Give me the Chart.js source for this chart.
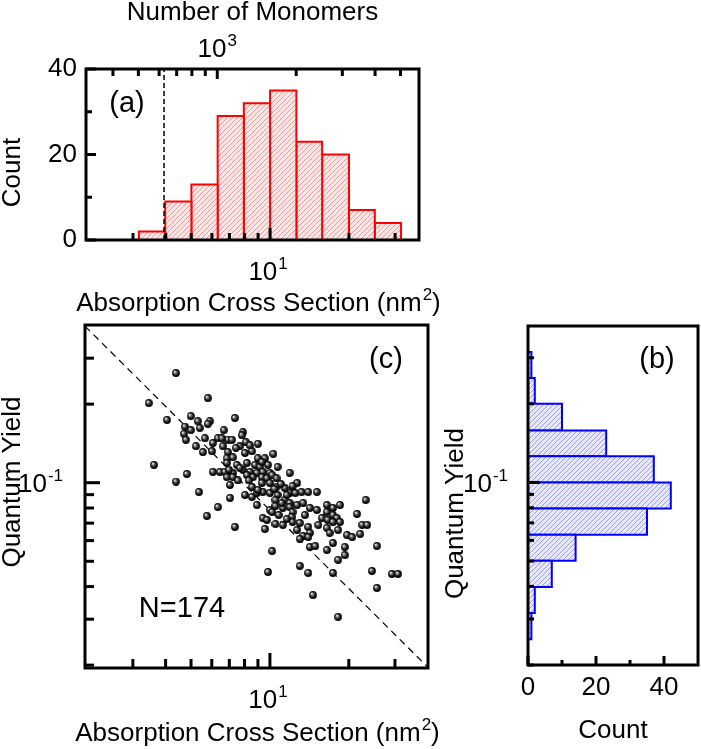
<!DOCTYPE html>
<html>
<head>
<meta charset="utf-8">
<style>
  body { margin: 0; background: #fff; }
  #figure { position: relative; width: 701px; height: 749px; overflow: hidden; }
  #figure canvas { position: absolute; }
  #histA { left: 0; top: 0; }
  #scatterC { left: 0; top: 318px; }
  #histB { left: 440px; top: 318px; }
</style>
</head>
<body>
<div id="figure">
  <canvas id="histA" width="450" height="318"></canvas>
  <canvas id="scatterC" width="450" height="431"></canvas>
  <canvas id="histB" width="261" height="431"></canvas>
</div>
<script src="https://cdn.jsdelivr.net/npm/chart.js"></script>
<script>
// ---- panel (a): absorption cross section histogram (nm^2)
const sigmaEdges = [3.16, 3.98, 5.01, 6.31, 7.94, 10.0, 12.6, 15.8, 20.0, 25.1, 31.6];
const sigmaCounts = [2, 9, 13, 29, 32, 35, 23, 20, 7, 4];
const cutoffSigma = 3.94;          // dashed line
const monomersPerNm2 = 159;        // top axis conversion

// ---- panel (b): quantum yield histogram
const qyEdges = [0.0251, 0.0316, 0.0398, 0.0501, 0.0631, 0.0794, 0.100, 0.126, 0.158, 0.200, 0.251, 0.316];
const qyCounts = [1, 2, 7, 14, 35, 42, 37, 23, 10, 2, 1];

// ---- panel (c): single particles (N=174)
const sigmaValues = [
  4.38, 3.45, 5.80, 4.05, 4.99, 5.31, 5.90, 4.74, 4.99, 5.40,
  5.80, 4.70, 6.67, 6.33, 6.06, 6.62, 5.55, 6.91, 6.01, 6.91,
  7.35, 7.89, 7.82, 7.16, 8.10, 9.00, 7.68, 8.54, 10.3, 8.03,
  6.85, 7.22, 9.00, 9.57, 6.85, 7.48, 8.17, 8.77, 9.16, 9.83,
  10.7, 6.06, 6.44, 6.73, 7.22, 7.89, 8.39, 8.92, 9.40, 10.0,
  11.9, 3.61, 4.82, 4.38, 6.85, 7.22, 7.55, 7.04, 8.17, 8.61,
  9.32, 9.74, 10.2, 10.6, 8.54, 9.32, 10.0, 10.6, 11.4, 12.1,
  12.7, 13.2, 14.0, 15.1, 11.9, 12.5, 5.36, 7.04, 8.54, 8.92,
  9.40, 10.0, 10.7, 11.4, 11.9, 6.33, 5.75, 8.92, 10.0, 10.2,
  11.2, 11.9, 12.2, 12.7, 13.4, 14.2, 15.1, 16.5, 17.4, 18.5,
  16.5, 17.4, 18.0, 9.40, 9.74, 11.2, 12.1, 12.2, 13.0, 14.0,
  15.8, 16.6, 17.4, 18.5, 21.5, 23.2, 7.35, 9.57, 12.7, 13.4,
  14.2, 16.5, 16.9, 18.2, 19.7, 20.6, 22.5, 23.5, 22.1, 13.0,
  14.0, 14.2, 14.9, 16.5, 17.4, 19.3, 18.2, 19.3, 10.2, 25.6,
  9.83, 13.0, 14.0, 17.4, 24.5, 29.2, 30.8, 25.6, 14.6, 18.2,
  4.78, 5.65, 5.22, 7.42, 6.56, 8.39, 7.68, 6.98, 8.31, 9.32,
  9.00, 8.03, 10.4, 11.0, 11.6, 10.5, 11.1, 12.2, 10.5, 10.8,
  11.6, 10.5, 13.6, 15.3
];
const qyValues = [
  0.263, 0.202, 0.211, 0.174, 0.180, 0.172, 0.172, 0.164, 0.159, 0.162,
  0.168, 0.154, 0.159, 0.148, 0.142, 0.138, 0.131, 0.146, 0.132, 0.131,
  0.177, 0.156, 0.152, 0.146, 0.143, 0.141, 0.138, 0.132, 0.129, 0.130,
  0.124, 0.125, 0.124, 0.124, 0.119, 0.117, 0.119, 0.117, 0.115, 0.117,
  0.115, 0.110, 0.110, 0.110, 0.109, 0.112, 0.110, 0.109, 0.110, 0.109,
  0.109, 0.117, 0.108, 0.101, 0.105, 0.105, 0.102, 0.098, 0.107, 0.105,
  0.105, 0.104, 0.107, 0.104, 0.0963, 0.0997, 0.0997, 0.0963, 0.0954, 0.0938,
  0.0997, 0.0921, 0.0921, 0.0921, 0.0913, 0.0913, 0.0921, 0.0874, 0.0882, 0.0913,
  0.0921, 0.0913, 0.0897, 0.0858, 0.0836, 0.0807, 0.0746, 0.0821, 0.0786, 0.0772,
  0.0800, 0.0807, 0.0772, 0.0821, 0.0836, 0.0800, 0.0786, 0.0821, 0.0800, 0.0821,
  0.0772, 0.0752, 0.0732, 0.0732, 0.0720, 0.0689, 0.0739, 0.0707, 0.0701, 0.0677,
  0.0732, 0.0720, 0.0707, 0.0707, 0.0759, 0.0858, 0.0677, 0.0665, 0.0659, 0.0625,
  0.0642, 0.0671, 0.0642, 0.0659, 0.0630, 0.0619, 0.0689, 0.0689, 0.0636, 0.0609,
  0.0619, 0.0567, 0.0572, 0.0552, 0.0587, 0.0567, 0.0506, 0.0528, 0.0547, 0.0572,
  0.0455, 0.0480, 0.0451, 0.0451, 0.0459, 0.0447, 0.0447, 0.0395, 0.0371, 0.0306,
  0.146, 0.148, 0.138, 0.136, 0.148, 0.139, 0.114, 0.112, 0.102, 0.120,
  0.0938, 0.0897, 0.0946, 0.0989, 0.0897, 0.0858, 0.0836, 0.0971, 0.0814, 0.0752,
  0.0726, 0.0695, 0.0752, 0.0689
];
const guideSigma = [1.97, 40.1];   // dashed slope -1 line end points
const guideQY = [0.398, 0.0196];

// ---- axis ticks ("10^n" labels get a real superscript)
const sigmaTicks = [3, 4, 5, 6, 7, 8, 9, 10, 20, 30];
const sigmaTickLabels = ['', '', '', '', '', '', '', '10^1', '', ''];
const monomerTicks = [400, 500, 600, 700, 800, 900, 1000, 2000, 3000, 4000, 5000];
const monomerTickLabels = ['', '', '', '', '', '', '10^3', '', '', '', ''];
const countTicksA = [0, 10, 20, 30, 40];
const countTickLabelsA = ['0', '', '20', '', '40'];
const qyTicks = [0.02, 0.03, 0.04, 0.05, 0.06, 0.07, 0.08, 0.09, 0.1, 0.2, 0.3];
const qyTickLabels = ['', '', '', '', '', '', '', '', '10^-1', '', ''];
const countTicksB = [0, 10, 20, 30, 40];
const countTickLabelsB = ['0', '', '20', '', '40'];
const sigmaTitle = ['Absorption Cross Section (nm', '2', ')'];

const FONT = '"Liberation Sans", Arial, sans-serif';
Chart.defaults.font.family = FONT;
Chart.defaults.font.size = 26;
Chart.defaults.color = '#000';

function hatch(canvasId, bg, fg) {
  const c = document.createElement('canvas');
  c.width = 5; c.height = 5;
  const g = c.getContext('2d');
  g.fillStyle = bg;
  g.fillRect(0, 0, 5, 5);
  g.strokeStyle = fg;
  g.lineWidth = 1;
  g.beginPath();
  g.moveTo(-1, 6); g.lineTo(6, -1);
  g.moveTo(-1, 1); g.lineTo(1, -1);
  g.moveTo(4, 6); g.lineTo(6, 4);
  g.stroke();
  return document.getElementById(canvasId).getContext('2d').createPattern(c, 'repeat');
}

// small shaded sphere used as the scatter marker
function ball() {
  const c = document.createElement('canvas');
  c.width = 8; c.height = 8;
  const g = c.getContext('2d');
  const gr = g.createRadialGradient(2.7, 2.6, 0.2, 4, 4, 4);
  gr.addColorStop(0, '#f2f2f2');
  gr.addColorStop(0.3, '#7a7a7a');
  gr.addColorStop(0.65, '#151515');
  gr.addColorStop(1, '#000');
  g.fillStyle = gr;
  g.beginPath();
  g.arc(4, 4, 3.9, 0, Math.PI * 2);
  g.fill();
  return c;
}

function axis(o) {
  return {
    type: o.type,
    position: o.position,
    min: o.min,
    max: o.max,
    grid: { display: false, drawTicks: false },
    border: { display: false },
    afterBuildTicks: s => { s.ticks = o.ticks.map(v => ({ value: v })); },
    afterFit: s => {
      if (s.isHorizontal()) s.height = o.size; else s.width = o.size;
      s.paddingLeft = s.paddingRight = s.paddingTop = s.paddingBottom = 0;
    },
    ticks: {
      autoSkip: false, maxRotation: 0, minRotation: 0, padding: o.pad || 0,
      callback: (v, i) => (o.labels[i].indexOf('^') >= 0 ? '' : o.labels[i])
    },
    title: { display: !!o.title, text: o.title || '', padding: o.titlePad }
  };
}

// text with superscript pieces: parts alternate normal / superscript
function richText(ctx, parts, x, y, align) {
  const big = '26px ' + FONT, small = '17px ' + FONT;
  const widths = parts.map((p, i) => { ctx.font = i % 2 ? small : big; return ctx.measureText(p).width; });
  const total = widths.reduce((s, w) => s + w, 0) + (parts.length > 1 ? 1 : 0);
  let cx = align === 'right' ? x - total : align === 'center' ? x - total / 2 : x;
  ctx.textAlign = 'left';
  ctx.textBaseline = 'alphabetic';
  parts.forEach((p, i) => {
    ctx.font = i % 2 ? small : big;
    ctx.fillText(p, cx, i % 2 ? y - 11 : y);
    cx += widths[i] + (i % 2 ? 0 : 1);
  });
}

// frame, inward ticks, decade labels, titles and the panel notes
function decor(tickSets, notes, titles) {
  return {
    id: 'decor',
    afterDatasetsDraw(chart) {
      const ctx = chart.ctx;
      const a = chart.chartArea;
      ctx.save();
      ctx.strokeStyle = '#000';
      ctx.fillStyle = '#000';
      ctx.lineWidth = 3;
      tickSets.forEach(t => {
        const s = chart.scales[t.axis];
        t.values.forEach((v, i) => {
          const lab = t.labels[i];
          const len = lab ? t.major : t.minor;
          const p = s.getPixelForValue(v);
          ctx.beginPath();
          if (s.position === 'bottom') { ctx.moveTo(p, a.bottom); ctx.lineTo(p, a.bottom - len); }
          else if (s.position === 'top') { ctx.moveTo(p, a.top); ctx.lineTo(p, a.top + len); }
          else { ctx.moveTo(a.left, p); ctx.lineTo(a.left + len, p); }
          ctx.stroke();
          if (lab.indexOf('^') >= 0) {
            const parts = lab.split('^');
            if (s.position === 'bottom') richText(ctx, parts, p - 2, a.bottom + 39.5, 'center');
            else if (s.position === 'top') richText(ctx, parts, p, a.top - 12.5, 'center');
            else richText(ctx, parts, a.left - t.pad, p + 9.3, 'right');
          }
        });
      });
      ctx.strokeRect(a.left, a.top, a.right - a.left, a.bottom - a.top);
      (titles || []).forEach(tt => richText(ctx, tt.parts, (a.left + a.right) / 2 + tt.dx, a.bottom + tt.dy, 'center'));
      ctx.textAlign = 'center';
      ctx.textBaseline = 'middle';
      ctx.font = '29px ' + FONT;
      notes.forEach(n => ctx.fillText(n.text, a.left + n.dx, a.top + n.dy));
      ctx.restore();
    }
  };
}

const base = {
  responsive: false,
  animation: false,
  events: [],
  plugins: { legend: { display: false }, tooltip: { enabled: false } }
};

// ---------- (a)
const redHatch = hatch('histA', '#fde6e6', '#f09a9a');
const barsA = sigmaCounts.map((h, i) => {
  const lo = sigmaEdges[i], hi = sigmaEdges[i + 1];
  return {
    data: [{ x: lo, y: 0 }, { x: lo, y: h }, { x: hi, y: h }, { x: hi, y: 0 }, { x: lo, y: 0 }],
    showLine: true, fill: 'shape', tension: 0,
    backgroundColor: redHatch, borderColor: '#ff0000', borderWidth: 2,
    pointRadius: 0
  };
});

new Chart(document.getElementById('histA'), {
  type: 'scatter',
  data: {
    datasets: [
      {
        data: [{ x: cutoffSigma, y: 0 }, { x: cutoffSigma, y: 40 }],
        showLine: true, borderColor: '#000', borderWidth: 1.5, borderDash: [5, 3], pointRadius: 0
      },
      ...barsA
    ]
  },
  options: {
    ...base,
    layout: { padding: { right: 31 } },
    scales: {
      x: axis({ type: 'logarithmic', position: 'bottom', min: 1.985, max: 37.0, ticks: sigmaTicks, labels: sigmaTickLabels, size: 78 }),
      x2: axis({ type: 'logarithmic', position: 'top', min: 1.985 * monomersPerNm2, max: 37.0 * monomersPerNm2,
                 ticks: monomerTicks, labels: monomerTickLabels,
                 size: 69, title: 'Number of Monomers', titlePad: { top: -2.5, bottom: 0 } }),
      y: axis({ type: 'linear', position: 'left', min: 0, max: 40, ticks: countTicksA, labels: countTickLabelsA,
                size: 86, pad: 9, title: 'Count     ', titlePad: { top: -3, bottom: 0 } })
    }
  },
  plugins: [decor([
    { axis: 'x', values: sigmaTicks, labels: sigmaTickLabels, minor: 7, major: 12 },
    { axis: 'x2', values: monomerTicks, labels: monomerTickLabels, minor: 7, major: 10 },
    { axis: 'y', values: countTicksA, labels: countTickLabelsA, minor: 6, major: 10 }
  ], [{ text: '(a)', dx: 41, dy: 35 }],
  [{ parts: sigmaTitle, dx: 6, dy: 71 }])]
});

// ---------- (c)
new Chart(document.getElementById('scatterC'), {
  type: 'scatter',
  data: {
    datasets: [
      {
        data: sigmaValues.map((x, i) => ({ x: x, y: qyValues[i] })),
        pointStyle: ball(), pointRadius: 4
      },
      {
        data: guideSigma.map((x, i) => ({ x: x, y: guideQY[i] })),
        showLine: true, borderColor: '#000', borderWidth: 1.2, borderDash: [7, 5], pointRadius: 0
      }
    ]
  },
  options: {
    ...base,
    layout: { padding: { top: 7, right: 22 } },
    scales: {
      x: axis({ type: 'logarithmic', position: 'bottom', min: 1.97, max: 40.1, ticks: sigmaTicks, labels: sigmaTickLabels, size: 81 }),
      y: axis({ type: 'logarithmic', position: 'left', min: 0.0195, max: 0.402, ticks: qyTicks, labels: qyTickLabels,
                size: 85, title: '    Quantum Yield', titlePad: { top: -3, bottom: 0 } })
    }
  },
  plugins: [decor([
    { axis: 'x', values: sigmaTicks, labels: sigmaTickLabels, minor: 9, major: 15 },
    { axis: 'y', values: qyTicks, labels: qyTickLabels, minor: 9, major: 15, pad: 22 }
  ], [{ text: '(c)', dx: 301, dy: 35 }, { text: 'N=174', dx: 97, dy: 284 }],
  [{ parts: sigmaTitle, dx: 1, dy: 73 }])]
});

// ---------- (b)
const blueHatch = hatch('histB', '#e8e8fb', '#9c9cec');
const barsB = qyCounts.map((h, i) => {
  const lo = qyEdges[i], hi = qyEdges[i + 1];
  return {
    data: [{ x: 0, y: lo }, { x: h, y: lo }, { x: h, y: hi }, { x: 0, y: hi }, { x: 0, y: lo }],
    showLine: true, fill: 'shape', tension: 0,
    backgroundColor: blueHatch, borderColor: '#0000ff', borderWidth: 2,
    pointRadius: 0
  };
});

new Chart(document.getElementById('histB'), {
  type: 'scatter',
  data: { datasets: barsB },
  options: {
    ...base,
    layout: { padding: { top: 8, right: 3 } },
    scales: {
      x: axis({ type: 'linear', position: 'bottom', min: 0, max: 50, ticks: countTicksB, labels: countTickLabelsB,
                size: 84, pad: 7, title: 'Count', titlePad: { top: 0, bottom: 3 } }),
      y: axis({ type: 'logarithmic', position: 'left', min: 0.0200, max: 0.397, ticks: qyTicks, labels: qyTickLabels,
                size: 88, title: 'Quantum Yield     ', titlePad: { top: 0, bottom: 0 } })
    }
  },
  plugins: [decor([
    { axis: 'x', values: countTicksB, labels: countTickLabelsB, minor: 5, major: 9 },
    { axis: 'y', values: qyTicks, labels: qyTickLabels, minor: 6, major: 12, pad: 20 }
  ], [{ text: '(b)', dx: 129, dy: 34 }])]
});
</script>
</body>
</html>
